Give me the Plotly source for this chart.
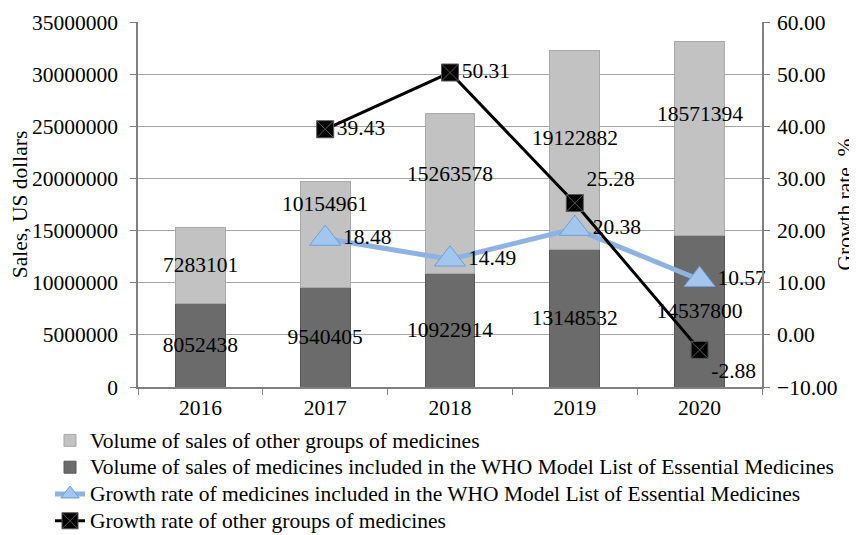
import plotly.graph_objects as go

years = ["2016", "2017", "2018", "2019", "2020"]
who_sales = [8052438, 9540405, 10922914, 13148532, 14537800]
other_sales = [7283101, 10154961, 15263578, 19122882, 18571394]
growth_years = ["2017", "2018", "2019", "2020"]
who_growth = [18.48, 14.49, 20.38, 10.57]
other_growth = [39.43, 50.31, 25.28, -2.88]

# pixel shifts of the labels of the upper segments (layout only)
other_label_shift = [0, 31, 20, 12, 25]

FONT = "Liberation Serif"
FS = 21.5


def leg(s):
    return f'<span style="font-size:21.5px">{s}</span>'


fig = go.Figure()

fig.add_trace(go.Bar(
    x=years, y=who_sales,
    name=leg("Volume of sales of medicines included in the WHO Model List of Essential Medicines"),
    marker=dict(color="#6b6b6b", line=dict(color="#585858", width=1)),
    text=[str(v) for v in who_sales], textposition="inside", insidetextanchor="middle",
    constraintext="none", textangle=0, textfont=dict(family=FONT, size=FS, color="black"),
    legendrank=2, width=0.4,
))
fig.add_trace(go.Bar(
    x=years, y=other_sales, name=leg("Volume of sales of other groups of medicines"),
    marker=dict(color="#c2c2c2", line=dict(color="#a8a8a8", width=1)),
    textposition="none",
    legendrank=1, width=0.4,
))
fig.add_trace(go.Scatter(
    x=growth_years, y=who_growth, yaxis="y2", mode="lines+markers+text",
    name=leg("Growth rate of medicines included in the WHO Model List of Essential Medicines"),
    line=dict(color="#8db3e2", width=5),
    marker=dict(symbol="triangle-up", size=27, color="#a2c6ee", line=dict(color="#6f9fd6", width=1)),
    text=[f"{v:.2f}" for v in who_growth],
    textposition="middle right",
    textfont=dict(family=FONT, size=FS, color="black"),
    cliponaxis=False, legendrank=3,
))
fig.add_trace(go.Scatter(
    x=growth_years, y=other_growth, yaxis="y2", mode="lines+markers+text",
    name=leg("Growth rate of other groups of medicines"),
    line=dict(color="black", width=3),
    marker=dict(symbol="square-x", size=17, color="black", line=dict(color="#555555", width=1)),
    text=[f"{v:.2f}" for v in other_growth],
    textposition=["middle right", "middle right", "top right", "bottom right"],
    textfont=dict(family=FONT, size=FS, color="black"),
    cliponaxis=False, legendrank=4,
))

# labels of the upper segments, anchored at the segment centre (category index on x)
for i, (w, o, sh) in enumerate(zip(who_sales, other_sales, other_label_shift)):
    fig.add_annotation(x=i, xref="x", y=w + o / 2, yref="y", text=str(o), showarrow=False,
                       yshift=sh, font=dict(family=FONT, size=FS, color="black"))

fig.update_layout(
    width=849, height=527,
    margin=dict(l=130, r=95, t=14, b=148, autoexpand=False),
    barmode="stack",
    plot_bgcolor="white", paper_bgcolor="white",
    font=dict(family=FONT, size=FS, color="black"),
    showlegend=True,
    legend=dict(x=(50 - 138) / 624, xref="paper", y=0.2144, yref="container",
                xanchor="left", yanchor="top",
                orientation="v", traceorder="normal",
                font=dict(family=FONT, size=18.3), tracegroupgap=0, itemwidth=30,
                bgcolor="rgba(0,0,0,0)"),
    xaxis=dict(type="category", range=[-0.5, 4.5], showline=True, linecolor="#808080", linewidth=1.5,
               ticks="outside", tickson="boundaries", ticklen=6, tickcolor="#808080",
               showgrid=False, tickfont=dict(family=FONT, size=FS)),
    yaxis=dict(range=[0, 35000000], dtick=5000000, tickformat="d",
               showline=True, linecolor="#808080", linewidth=1.5,
               ticks="outside", ticklen=6, tickcolor="#808080", ticklabelstandoff=8,
               showgrid=True, gridcolor="#a6a6a6", gridwidth=1,
               zeroline=False,
               title=dict(text="Sales, US dollars", font=dict(family=FONT, size=FS), standoff=0),
               tickfont=dict(family=FONT, size=FS)),
    yaxis2=dict(range=[-10, 60], dtick=10, tickformat=".2f", overlaying="y", side="right",
                showline=True, linecolor="#808080", linewidth=1.5,
                ticks="outside", ticklen=6, tickcolor="#808080", ticklabelstandoff=3,
                showgrid=False, zeroline=False,
                title=dict(text="Growth rate, %", font=dict(family=FONT, size=FS), standoff=0),
                tickfont=dict(family=FONT, size=FS)),
)

fig.write_html("out.html")
